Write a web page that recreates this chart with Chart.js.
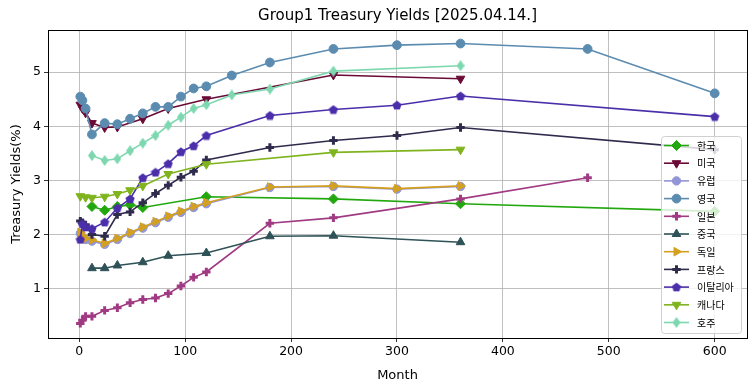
<!DOCTYPE html>
<html>
<head>
<meta charset="utf-8">
<script src="https://cdn.jsdelivr.net/npm/chart.js@4.4.1/dist/chart.umd.min.js"></script>
<style>
  html, body { margin: 0; padding: 0; background: #fff; }
  #wrap { width: 755px; height: 391px; }
</style>
</head>
<body>
<div id="wrap"><canvas id="grafica" width="755" height="391"></canvas></div>
<script>
// values (x = maturity in months, y = yield %)
var krMonths = [12, 24, 36, 48, 60, 120, 240, 360, 600];
var krYields = [2.52, 2.45, 2.52, 2.55, 2.50, 2.70, 2.66, 2.57, 2.43];

var usMonths = [1, 3, 6, 12, 24, 36, 60, 84, 120, 240, 360];
var usYields = [4.40, 4.33, 4.25, 4.06, 3.98, 3.99, 4.14, 4.33, 4.50, 4.95, 4.88];

var euMonths = [1, 3, 6, 12, 24, 36, 48, 60, 72, 84, 96, 108, 120, 180, 240, 300, 360];
var euYields = [2.02, 1.96, 1.91, 1.88, 1.82, 1.91, 2.02, 2.12, 2.22, 2.32, 2.41, 2.50, 2.57, 2.87, 2.89, 2.84, 2.89];

var ukMonths = [1, 3, 6, 12, 24, 36, 48, 60, 72, 84, 96, 108, 120, 144, 180, 240, 300, 360, 480, 600];
var ukYields = [4.55, 4.48, 4.33, 3.85, 4.06, 4.04, 4.14, 4.24, 4.36, 4.36, 4.55, 4.70, 4.74, 4.94, 5.18, 5.43, 5.50, 5.53, 5.43, 4.61];

var jpMonths = [1, 3, 6, 12, 24, 36, 48, 60, 72, 84, 96, 108, 120, 180, 240, 360, 480];
var jpYields = [0.36, 0.42, 0.49, 0.49, 0.60, 0.65, 0.74, 0.80, 0.83, 0.91, 1.05, 1.21, 1.31, 2.21, 2.31, 2.66, 3.05];

var cnMonths = [12, 24, 36, 60, 84, 120, 180, 240, 360];
var cnYields = [1.38, 1.38, 1.43, 1.49, 1.61, 1.66, 1.97, 1.98, 1.86];

var deMonths = [1, 3, 6, 12, 24, 36, 48, 60, 72, 84, 96, 108, 120, 180, 240, 300, 360];
var deYields = [2.04, 1.98, 1.93, 1.90, 1.84, 1.93, 2.04, 2.14, 2.24, 2.34, 2.43, 2.52, 2.59, 2.88, 2.90, 2.85, 2.90];

var frMonths = [1, 3, 6, 12, 24, 36, 48, 60, 72, 84, 96, 108, 120, 180, 240, 300, 360, 600];
var frYields = [2.25, 2.22, 2.18, 2.00, 1.97, 2.37, 2.42, 2.59, 2.76, 2.91, 3.06, 3.17, 3.38, 3.61, 3.74, 3.83, 3.98, 3.57];

var itMonths = [1, 3, 6, 12, 24, 36, 48, 60, 72, 84, 96, 108, 120, 180, 240, 300, 360, 600];
var itYields = [1.91, 2.20, 2.14, 2.11, 2.23, 2.49, 2.66, 3.05, 3.15, 3.31, 3.53, 3.64, 3.83, 4.20, 4.31, 4.39, 4.56, 4.18];

var caMonths = [1, 6, 12, 24, 36, 48, 60, 84, 120, 240, 360];
var caYields = [2.71, 2.69, 2.68, 2.70, 2.75, 2.82, 2.90, 3.12, 3.30, 3.52, 3.57];

var auMonths = [12, 24, 36, 48, 60, 72, 84, 96, 108, 120, 144, 180, 240, 360];
var auYields = [3.46, 3.37, 3.40, 3.55, 3.69, 3.83, 4.02, 4.17, 4.33, 4.40, 4.58, 4.69, 5.02, 5.12];

var xTicks = [0, 100, 200, 300, 400, 500, 600];
var yTicks = [1, 2, 3, 4, 5];
var titulo = 'Group1 Treasury Yields [2025.04.14.]';

// small canvas markers for shapes chart.js does not have
function polyMarker(color, pts, w, h){
    var c = document.createElement('canvas');
    c.width = w; c.height = h;
    var g = c.getContext('2d');
    g.fillStyle = color;
    g.beginPath();
    pts.forEach(function(p, i){ if(i == 0) g.moveTo(p[0], p[1]); else g.lineTo(p[0], p[1]); });
    g.closePath();
    g.fill();
    return c;
}
function pentagon(color){
    var pts = [];
    for(var i = 0; i < 5; i++){
        var a = -Math.PI/2 + i*2*Math.PI/5;
        pts.push([5 + 4.8*Math.cos(a), 5.4 + 4.8*Math.sin(a)]);
    }
    return polyMarker(color, pts, 10, 10);
}
function thinDiamond(color){
    return polyMarker(color, [[4,0],[8,5.5],[4,11],[0,5.5]], 8, 11);
}

function serie(label, months, yields, color, style, radius, rot, bw){
    return {
        label: label,
        data: months.map(function(m, i){ return {x: m, y: yields[i]}; }),
        borderColor: color,
        backgroundColor: color,
        pointBackgroundColor: color,
        pointBorderColor: color,
        pointStyle: style,
        pointRadius: radius,
        pointRotation: rot || 0,
        pointBorderWidth: bw || 1,
        borderWidth: 1.6,
        tension: 0
    };
}

var datasets = [
    serie('한국', krMonths, krYields, '#22a80e', 'rectRot', 5),
    serie('미국', usMonths, usYields, '#6a0a36', 'triangle', 5, 180),
    serie('유럽', euMonths, euYields, '#9296d6', 'circle', 4.2),
    serie('영국', ukMonths, ukYields, '#5b8cb0', 'circle', 4.4),
    serie('일본', jpMonths, jpYields, '#a03a82', 'cross', 4.2, 0, 3),
    serie('중국', cnMonths, cnYields, '#2e5257', 'triangle', 5),
    serie('독일', deMonths, deYields, '#d4a020', 'triangle', 5, 90),
    serie('프랑스', frMonths, frYields, '#2f2b4c', 'cross', 4.2, 0, 3),
    serie('이탈리아', itMonths, itYields, '#4b2eaa', pentagon('#4b2eaa'), 5),
    serie('캐나다', caMonths, caYields, '#80b41e', 'triangle', 5, 180),
    serie('호주', auMonths, auYields, '#7dd8b0', thinDiamond('#7dd8b0'), 5)
];
// later series on top, like the original
datasets.forEach(function(d, i){ d.order = -i; });

// frame round the plot + title centred over the plot area
var framePlugin = {
    id: 'frame',
    afterDatasetsDraw: function(chart){
        var a = chart.chartArea, ctx = chart.ctx;
        ctx.save();
        ctx.strokeStyle = '#000';
        ctx.lineWidth = 1;
        ctx.strokeRect(Math.round(a.left) + 0.5, Math.round(a.top) + 0.5,
            Math.round(a.right - a.left), Math.round(a.bottom - a.top));
        ctx.fillStyle = '#000';
        ctx.font = '15px "DejaVu Sans"';
        ctx.textAlign = 'center';
        ctx.textBaseline = 'middle';
        ctx.fillText(titulo, (a.left + a.right) / 2, 16);
        ctx.restore();
    }
};

var legendPlugin = {
    id: 'boxLegend',
    afterDraw: function(chart){
        var ctx = chart.ctx;
        var x0 = 661, y0 = 136, w = 80, h = 197, step = 17.7;
        ctx.save();
        ctx.fillStyle = 'rgba(255,255,255,0.8)';
        ctx.strokeStyle = '#d0d0d0';
        ctx.lineWidth = 1;
        ctx.beginPath();
        ctx.roundRect(x0 + 0.5, y0 + 0.5, w, h, 3);
        ctx.fill();
        ctx.stroke();
        ctx.font = '10px "Noto Sans CJK KR", "DejaVu Sans", sans-serif';
        ctx.textBaseline = 'middle';
        ctx.textAlign = 'left';
        chart.data.datasets.forEach(function(d, i){
            var y = y0 + 9.5 + i*step;
            ctx.strokeStyle = d.borderColor;
            ctx.lineWidth = 1.6;
            ctx.beginPath();
            ctx.moveTo(x0 + 3, y);
            ctx.lineTo(x0 + 28, y);
            ctx.stroke();
            ctx.fillStyle = d.pointBackgroundColor;
            ctx.strokeStyle = d.pointBorderColor;
            ctx.lineWidth = d.pointBorderWidth;
            Chart.helpers.drawPoint(ctx, {
                pointStyle: d.pointStyle,
                rotation: d.pointRotation,
                radius: d.pointRadius,
                borderWidth: d.pointBorderWidth
            }, x0 + 15.5, y);
            ctx.fillStyle = '#000';
            ctx.fillText(d.label, x0 + 36, y + 0.5);
        });
        ctx.restore();
    }
};

var ctx = document.getElementById('grafica').getContext('2d');
var chart = new Chart(ctx, {
    type: 'line',
    data: { datasets: datasets },
    options: {
        responsive: false,
        animation: false,
        devicePixelRatio: 1,
        layout: { padding: { left: 4, right: 8, top: 30, bottom: 4 } },
        plugins: {
            legend: { display: false },
            tooltip: { enabled: false },
            title: { display: false }
        },
        scales: {
            x: {
                type: 'linear',
                min: -29.5,
                max: 630.5,
                afterBuildTicks: function(s){ s.ticks = xTicks.map(function(v){ return {value: v}; }); },
                afterFit: function(s){ s.height = 49; },
                ticks: { color: '#000', font: { family: 'DejaVu Sans', size: 12.5 }, padding: 2, maxRotation: 0 },
                grid: { color: '#b0b0b0', lineWidth: 0.8, tickColor: '#000', tickLength: 4 },
                border: { display: false },
                title: { display: true, text: 'Month', color: '#000',
                         font: { family: 'DejaVu Sans', size: 13 }, padding: { top: 2 } }
            },
            y: {
                type: 'linear',
                min: 0.09,
                max: 5.78,
                afterBuildTicks: function(s){ s.ticks = yTicks.map(function(v){ return {value: v}; }); },
                afterFit: function(s){ s.width = 44; },
                ticks: { color: '#000', font: { family: 'DejaVu Sans', size: 12.5 }, padding: 3 },
                grid: { color: '#b0b0b0', lineWidth: 0.8, tickColor: '#000', tickLength: 4 },
                border: { display: false },
                title: { display: true, text: 'Treasury Yields(%)', color: '#000',
                         font: { family: 'DejaVu Sans', size: 13 }, padding: { top: 5, bottom: 2 } }
            }
        }
    },
    plugins: [framePlugin, legendPlugin]
});
</script>
</body>
</html>
